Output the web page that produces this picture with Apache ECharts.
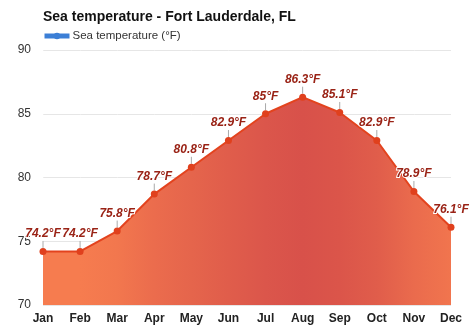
<!DOCTYPE html>
<html><head><meta charset="utf-8">
<script src="https://cdn.jsdelivr.net/npm/echarts@6/dist/echarts.min.js"></script>
<style>html,body{margin:0;padding:0;background:#fff}#c{width:474px;height:331px}</style>
</head><body><div id="c"></div>
<script>
const months = ['Jan','Feb','Mar','Apr','May','Jun','Jul','Aug','Sep','Oct','Nov','Dec'];
const seaTemp = [74.2,74.2,75.8,78.7,80.8,82.9,85,86.3,85.1,82.9,78.9,76.1];
const yTicks = [70,75,80,85,90];

function mix(a,b,t){const p=i=>parseInt(a.substr(i,2),16),q=i=>parseInt(b.substr(i,2),16);
  return 'rgb('+[1,3,5].map(i=>Math.round(p(i)+(q(i)-p(i))*t)).join(',')+')';}
const lo='#f67d4f', hi='#d8514a';
const stops = seaTemp.map((v,i)=>({offset:i/(seaTemp.length-1), color:mix(lo,hi,(v-74)/(86.3-74))}));

const chart = echarts.init(document.getElementById('c'));
chart.setOption({
  animation:false,
  textStyle:{fontFamily:'Liberation Sans, Arial, sans-serif'},
  title:{text:'Sea temperature - Fort Lauderdale, FL',left:38,top:5,
    textStyle:{fontSize:14,fontWeight:'bold',color:'#111'}},
  legend:{left:37,top:25,itemWidth:25,itemHeight:8,itemGap:10,
    data:[{name:'Sea temperature (°F)',itemStyle:{color:'#3c7fd6'},lineStyle:{color:'#3c7fd6',width:5}}],
    textStyle:{fontSize:11.5,color:'#333',padding:[0,0,0,-2]}},
  grid:{left:43,right:23,top:50,bottom:26},
  xAxis:{type:'category',data:months,boundaryGap:false,
    axisLine:{show:false},axisTick:{show:false},
    axisLabel:{fontSize:12,fontWeight:'bold',color:'#222',margin:8},
    splitLine:{show:true,lineStyle:{color:'rgba(255,255,255,0.25)',width:1}},z:3},
  yAxis:{type:'value',min:70,max:90,interval:5,
    axisLabel:{fontSize:12,color:'#333',margin:12},
    splitLine:{lineStyle:{color:'#e6e6e6'}}},
  series:[{name:'Sea temperature (°F)',type:'line',data:seaTemp,
    symbol:'circle',symbolSize:7,
    lineStyle:{color:'#e3431e',width:2},
    itemStyle:{color:'#e0401d'},
    areaStyle:{opacity:1,color:{type:'linear',x:0,y:0,x2:1,y2:0,colorStops:stops}},
    label:{show:true,position:'top',distance:4,formatter:p=>p.value+'°F',
      fontSize:12,fontWeight:'bold',fontStyle:'italic',color:'#9a2316',
      textBorderColor:'#fff',textBorderWidth:2},
    labelLayout:{dy:-4},
    labelLine:{show:true,lineStyle:{color:'#aaa',width:1}}
  }]
});
</script></body></html>
